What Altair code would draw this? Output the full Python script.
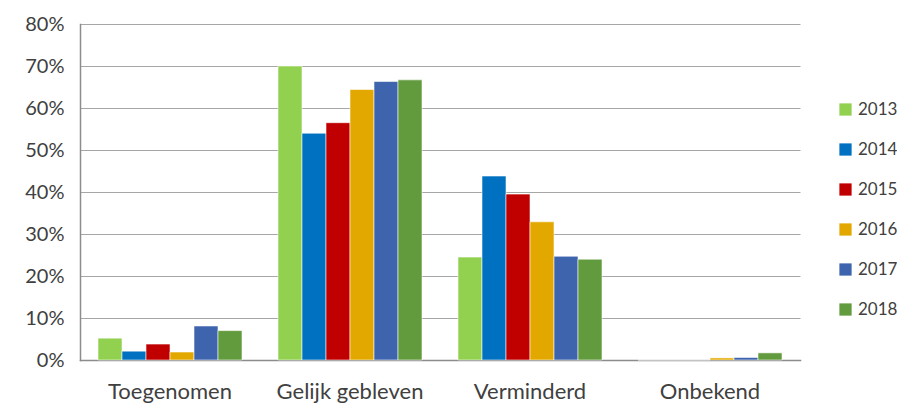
import altair as alt
import pandas as pd

categories = ["Toegenomen", "Gelijk gebleven", "Verminderd", "Onbekend"]
years = ["2013", "2014", "2015", "2016", "2017", "2018"]
v2013 = [5.2, 70.0, 24.5, 0.0]
v2014 = [2.1, 54.0, 43.8, 0.0]
v2015 = [3.8, 56.5, 39.5, 0.0]
v2016 = [1.9, 64.4, 32.9, 0.5]
v2017 = [8.1, 66.3, 24.7, 0.6]
v2018 = [7.0, 66.7, 24.0, 1.7]
colors = ["#92D050", "#0070C0", "#C00000", "#E3A800", "#3E64AD", "#629A3E"]

series = [v2013, v2014, v2015, v2016, v2017, v2018]
rows = []
for y, vals in zip(years, series):
    for c, v in zip(categories, vals):
        rows.append({"categorie": c, "jaar": y, "waarde": v})
df = pd.DataFrame(rows)

font = "Lato"
chart = alt.Chart(df).mark_bar(stroke="#FFFFFF", strokeWidth=0.8, strokeOpacity=0.7).encode(
    x=alt.X("categorie:N", sort=categories, title=None,
            scale=alt.Scale(paddingInner=0.2, paddingOuter=0.1),
            axis=alt.Axis(labelAngle=0, labelFontSize=22, labelColor="#404040", labelFont=font,
                          labelPadding=21, ticks=False, domainColor="#8C8C8C", domainWidth=1.5)),
    xOffset=alt.XOffset("jaar:N", sort=years),
    y=alt.Y("waarde:Q", title=None,
            scale=alt.Scale(domain=[0, 80], nice=False),
            axis=alt.Axis(values=list(range(0, 81, 10)), labelExpr="datum.value + '%'",
                          labelFontSize=20, labelColor="#404040", labelFont=font,
                          labelPadding=16, ticks=False, domainColor="#8C8C8C", domainWidth=1.5,
                          gridColor="#A6A6A6", gridWidth=1)),
    color=alt.Color("jaar:N", sort=years, title=None,
                    scale=alt.Scale(domain=years, range=colors),
                    legend=alt.Legend(orient="none", legendX=757, legendY=77,
                                      symbolType="square", symbolSize=150, symbolStrokeWidth=0,
                                      labelFontSize=17, labelColor="#404040", labelFont=font,
                                      rowPadding=22, labelOffset=4)),
).properties(
    width=720, height=336,
    autosize=alt.AutoSizeParams(type="none"),
    padding={"left": 72, "top": 16, "right": 97, "bottom": 50},
).configure_view(stroke=None).configure_axis(domainCap="square")

chart.save("out.html", embed_options={"renderer": "svg", "actions": False})
